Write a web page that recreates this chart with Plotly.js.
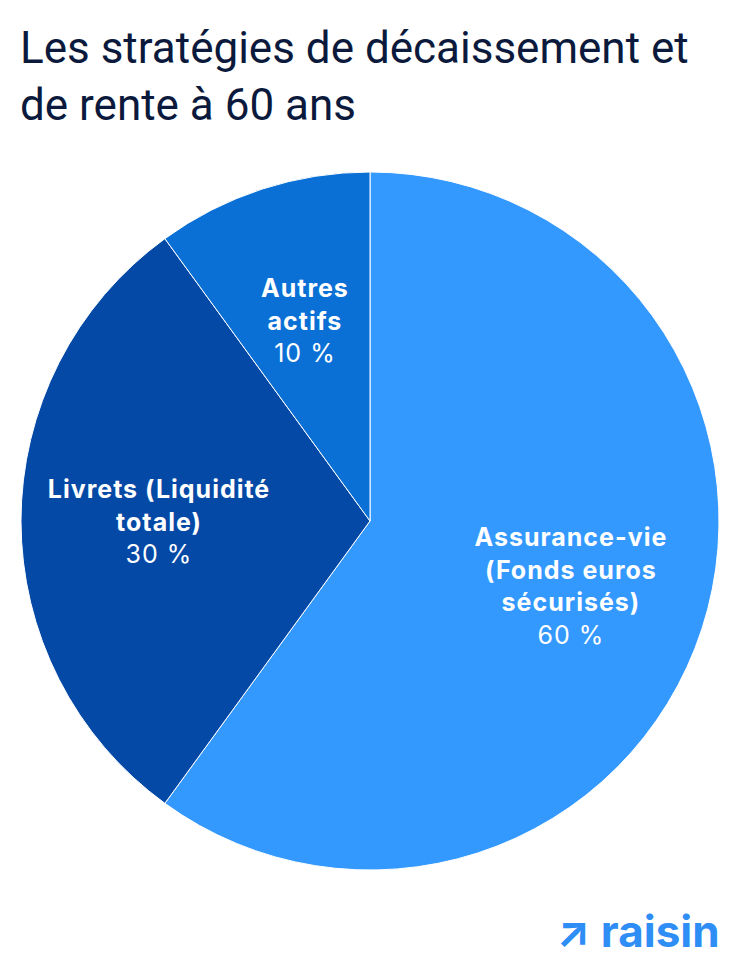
<!DOCTYPE html>
<html>
<head>
<meta charset="utf-8">
<script src="https://cdn.plot.ly/plotly-3.0.1.min.js"></script>
<style>
html,body{margin:0;padding:0;background:#fff;}
#chart{width:740px;height:968px;}
.slice-label text{letter-spacing:1px;}
</style>
</head>
<body>
<div id="chart"></div>
<script>
const categories = ["Assurance-vie<br>(Fonds euros<br>sécurisés)", "Livrets (Liquidité<br>totale)", "Autres<br>actifs"];
const values = [60, 30, 10];
const sliceColors = ["#3399FF", "#0549A6", "#0A70D6"];
const titleText = "Les stratégies de décaissement et<br>de rente à 60 ans";
const logoText = "↗ raisin";

const W = 740, H = 968;
const dom = {x: [21/W, 719/W], y: [98/H, 796/H]};

const trace = {
  type: "pie",
  labels: categories,
  values: values,
  sort: false,
  direction: "clockwise",
  rotation: 0,
  marker: {colors: sliceColors, line: {color: "#ffffff", width: 1}},
  textinfo: "none",
  hoverinfo: "none",
  showlegend: false,
  domain: dom
};

// label placement derived from the slice values (mid-angle of each slice)
const cxPx = (dom.x[0] + dom.x[1]) / 2 * W;
const cyPx = H - (dom.y[0] + dom.y[1]) / 2 * H;
const Rpx = Math.min((dom.x[1] - dom.x[0]) * W, (dom.y[1] - dom.y[0]) * H) / 2;
const total = values.reduce((a, b) => a + b, 0);
let acc = 0;
const labelAnnotations = values.map((v, i) => {
  const mid = (acc + v / 2) / total * 2 * Math.PI;
  acc += v;
  const r = 0.605 * Rpx;
  const px = cxPx + r * Math.sin(mid);
  const py = cyPx - r * Math.cos(mid);
  return {
    text: "<b>" + categories[i] + "</b><br>" + values[i] + " %",
    xref: "paper", yref: "paper",
    x: px / W, y: 1 - py / H,
    xanchor: "center", yanchor: "middle", align: "center",
    showarrow: false,
    font: {family: "Inter, sans-serif", size: 25, color: "#ffffff"}
  };
});

const layout = {
  width: W, height: H,
  margin: {l: 0, r: 0, t: 0, b: 0},
  paper_bgcolor: "#ffffff",
  title: {
    text: titleText,
    x: 20/W, xanchor: "left",
    y: 1 - 63/H, yanchor: "top",
    font: {family: "Roboto, sans-serif", size: 44, color: "#0B1A3C"}
  },
  annotations: labelAnnotations.concat([{
    text: "<b>" + logoText + "</b>",
    xref: "paper", yref: "paper",
    x: 722/W, y: 1 - 931/H, xanchor: "right", yanchor: "middle",
    showarrow: false,
    font: {family: "Inter, sans-serif", size: 44, color: "#2F8EF5"}
  }])
};

Plotly.newPlot("chart", [trace], layout, {displayModeBar: false, staticPlot: true}).then(() => {
  document.querySelectorAll("#chart .annotation").forEach((g, i) => {
    if (i < values.length) g.classList.add("slice-label");
  });
});
</script>
</body>
</html>
